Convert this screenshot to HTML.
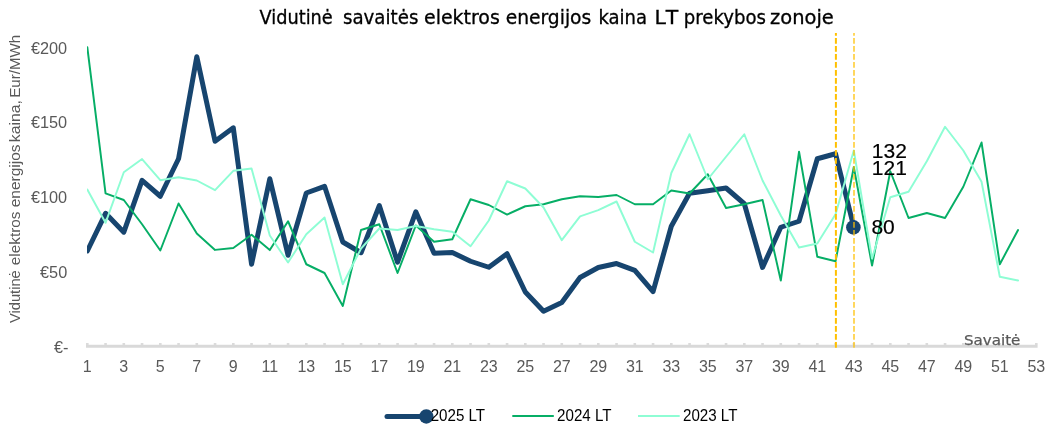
<!DOCTYPE html>
<html lang="lt">
<head>
<meta charset="utf-8">
<title>Vidutinė savaitės elektros energijos kaina LT prekybos zonoje</title>
<style>
html,body{margin:0;padding:0;background:#fff;}
body{width:1060px;height:447px;overflow:hidden;font-family:"Liberation Sans",sans-serif;}
svg{display:block;}
</style>
</head>
<body>
<svg width="1060" height="447" viewBox="0 0 1060 447">
<rect width="1060" height="447" fill="#ffffff"/>
<text y="23.5" font-family="'DejaVu Sans', 'Liberation Sans', sans-serif" font-size="18.67" fill="#000" stroke="#000" stroke-width="0.3"><tspan x="259.5" textLength="73.3" lengthAdjust="spacingAndGlyphs">Vidutinė</tspan> <tspan x="342.9" textLength="75.5" lengthAdjust="spacingAndGlyphs">savaitės</tspan> <tspan x="424.0" textLength="75.8" lengthAdjust="spacingAndGlyphs">elektros</tspan> <tspan x="505.7" textLength="85.6" lengthAdjust="spacingAndGlyphs">energijos</tspan> <tspan x="598.4" textLength="48.7" lengthAdjust="spacingAndGlyphs">kaina</tspan> <tspan x="654.4" textLength="23.9" lengthAdjust="spacingAndGlyphs" style="font-kerning:none">LT</tspan> <tspan x="683.8" textLength="82.2" lengthAdjust="spacingAndGlyphs">prekybos</tspan> <tspan x="770.0" textLength="63.8" lengthAdjust="spacingAndGlyphs">zonoje</tspan></text>
<text transform="translate(20.2,0) rotate(-90)" y="0" font-family="'Liberation Sans', sans-serif" font-size="14.67" fill="#595959"><tspan x="-322.9" textLength="52.6" lengthAdjust="spacingAndGlyphs">Vidutinė</tspan> <tspan x="-265.2" textLength="53.6" lengthAdjust="spacingAndGlyphs">elektros</tspan> <tspan x="-207.3" textLength="62.8" lengthAdjust="spacingAndGlyphs">energijos</tspan> <tspan x="-142.2" textLength="42.2" lengthAdjust="spacingAndGlyphs">kaina,</tspan> <tspan x="-97.8" textLength="63.0" lengthAdjust="spacingAndGlyphs">Eur/MWh</tspan></text>
<text x="67.2" y="53.60" text-anchor="end" font-family="'Liberation Sans', sans-serif" font-size="16.3" fill="#595959">€200</text>
<text x="67.2" y="128.48" text-anchor="end" font-family="'Liberation Sans', sans-serif" font-size="16.3" fill="#595959">€150</text>
<text x="67.2" y="203.35" text-anchor="end" font-family="'Liberation Sans', sans-serif" font-size="16.3" fill="#595959">€100</text>
<text x="67.2" y="278.23" text-anchor="end" font-family="'Liberation Sans', sans-serif" font-size="16.3" fill="#595959">€50</text>
<text x="68.4" y="353.10" text-anchor="end" font-family="'Liberation Sans', sans-serif" font-size="16.3" fill="#595959">€-</text>
<line x1="86" y1="346.3" x2="1037.6" y2="346.3" stroke="#d9d9d9" stroke-width="2.9"/>
<path d="M87.30 344.90v-2.0M105.55 344.90v-2.0M123.80 344.90v-2.0M142.05 344.90v-2.0M160.30 344.90v-2.0M178.55 344.90v-2.0M196.80 344.90v-2.0M215.05 344.90v-2.0M233.30 344.90v-2.0M251.55 344.90v-2.0M269.80 344.90v-2.0M288.05 344.90v-2.0M306.30 344.90v-2.0M324.55 344.90v-2.0M342.80 344.90v-2.0M361.05 344.90v-2.0M379.30 344.90v-2.0M397.55 344.90v-2.0M415.80 344.90v-2.0M434.05 344.90v-2.0M452.30 344.90v-2.0M470.55 344.90v-2.0M488.80 344.90v-2.0M507.05 344.90v-2.0M525.30 344.90v-2.0M543.55 344.90v-2.0M561.80 344.90v-2.0M580.05 344.90v-2.0M598.30 344.90v-2.0M616.55 344.90v-2.0M634.80 344.90v-2.0M653.05 344.90v-2.0M671.30 344.90v-2.0M689.55 344.90v-2.0M707.80 344.90v-2.0M726.05 344.90v-2.0M744.30 344.90v-2.0M762.55 344.90v-2.0M780.80 344.90v-2.0M799.05 344.90v-2.0M817.30 344.90v-2.0M835.55 344.90v-2.0M853.80 344.90v-2.0M872.05 344.90v-2.0M890.30 344.90v-2.0M908.55 344.90v-2.0M926.80 344.90v-2.0M945.05 344.90v-2.0M963.30 344.90v-2.0M981.55 344.90v-2.0M999.80 344.90v-2.0M1018.05 344.90v-2.0M1036.30 344.90v-2.0" stroke="#dbdbdb" stroke-width="2.6" fill="none"/>
<text x="87.30" y="372" text-anchor="middle" font-family="'Liberation Sans', sans-serif" font-size="16" fill="#595959">1</text>
<text x="123.80" y="372" text-anchor="middle" font-family="'Liberation Sans', sans-serif" font-size="16" fill="#595959">3</text>
<text x="160.30" y="372" text-anchor="middle" font-family="'Liberation Sans', sans-serif" font-size="16" fill="#595959">5</text>
<text x="196.80" y="372" text-anchor="middle" font-family="'Liberation Sans', sans-serif" font-size="16" fill="#595959">7</text>
<text x="233.30" y="372" text-anchor="middle" font-family="'Liberation Sans', sans-serif" font-size="16" fill="#595959">9</text>
<text x="269.80" y="372" text-anchor="middle" font-family="'Liberation Sans', sans-serif" font-size="16" fill="#595959">11</text>
<text x="306.30" y="372" text-anchor="middle" font-family="'Liberation Sans', sans-serif" font-size="16" fill="#595959">13</text>
<text x="342.80" y="372" text-anchor="middle" font-family="'Liberation Sans', sans-serif" font-size="16" fill="#595959">15</text>
<text x="379.30" y="372" text-anchor="middle" font-family="'Liberation Sans', sans-serif" font-size="16" fill="#595959">17</text>
<text x="415.80" y="372" text-anchor="middle" font-family="'Liberation Sans', sans-serif" font-size="16" fill="#595959">19</text>
<text x="452.30" y="372" text-anchor="middle" font-family="'Liberation Sans', sans-serif" font-size="16" fill="#595959">21</text>
<text x="488.80" y="372" text-anchor="middle" font-family="'Liberation Sans', sans-serif" font-size="16" fill="#595959">23</text>
<text x="525.30" y="372" text-anchor="middle" font-family="'Liberation Sans', sans-serif" font-size="16" fill="#595959">25</text>
<text x="561.80" y="372" text-anchor="middle" font-family="'Liberation Sans', sans-serif" font-size="16" fill="#595959">27</text>
<text x="598.30" y="372" text-anchor="middle" font-family="'Liberation Sans', sans-serif" font-size="16" fill="#595959">29</text>
<text x="634.80" y="372" text-anchor="middle" font-family="'Liberation Sans', sans-serif" font-size="16" fill="#595959">31</text>
<text x="671.30" y="372" text-anchor="middle" font-family="'Liberation Sans', sans-serif" font-size="16" fill="#595959">33</text>
<text x="707.80" y="372" text-anchor="middle" font-family="'Liberation Sans', sans-serif" font-size="16" fill="#595959">35</text>
<text x="744.30" y="372" text-anchor="middle" font-family="'Liberation Sans', sans-serif" font-size="16" fill="#595959">37</text>
<text x="780.80" y="372" text-anchor="middle" font-family="'Liberation Sans', sans-serif" font-size="16" fill="#595959">39</text>
<text x="817.30" y="372" text-anchor="middle" font-family="'Liberation Sans', sans-serif" font-size="16" fill="#595959">41</text>
<text x="853.80" y="372" text-anchor="middle" font-family="'Liberation Sans', sans-serif" font-size="16" fill="#595959">43</text>
<text x="890.30" y="372" text-anchor="middle" font-family="'Liberation Sans', sans-serif" font-size="16" fill="#595959">45</text>
<text x="926.80" y="372" text-anchor="middle" font-family="'Liberation Sans', sans-serif" font-size="16" fill="#595959">47</text>
<text x="963.30" y="372" text-anchor="middle" font-family="'Liberation Sans', sans-serif" font-size="16" fill="#595959">49</text>
<text x="999.80" y="372" text-anchor="middle" font-family="'Liberation Sans', sans-serif" font-size="16" fill="#595959">51</text>
<text x="1036.30" y="372" text-anchor="middle" font-family="'Liberation Sans', sans-serif" font-size="16" fill="#595959">53</text>
<text y="345.2" font-family="'DejaVu Sans', 'Liberation Sans', sans-serif" font-size="14.67" fill="#595959" stroke="#595959" stroke-width="0.25"><tspan x="964" textLength="56.4" lengthAdjust="spacingAndGlyphs">Savaitė</tspan></text>
<defs><clipPath id="plotclip"><rect x="86.9" y="30" width="960" height="320"/></clipPath></defs>
<polyline clip-path="url(#plotclip)" points="87.30,251.00 105.55,213.30 123.80,232.20 142.05,180.30 160.30,196.25 178.55,158.75 196.80,56.80 215.05,141.20 233.30,127.80 251.55,264.20 269.80,178.80 288.05,255.20 306.30,193.00 324.55,186.30 342.80,242.00 361.05,252.75 379.30,205.55 397.55,262.20 415.80,211.80 434.05,253.25 452.30,252.50 470.55,261.25 488.80,267.25 507.05,253.75 525.30,292.00 543.55,311.30 561.80,302.50 580.05,277.50 598.30,267.50 616.55,263.55 634.80,270.30 653.05,291.70 671.30,226.25 689.55,193.25 707.80,190.75 726.05,188.00 744.30,203.75 762.55,267.45 780.80,227.25 799.05,221.25 817.30,158.75 835.55,153.75 853.80,227.00" fill="none" stroke="#17456f" stroke-width="5" stroke-linejoin="round" stroke-linecap="round"/>
<circle cx="853.4" cy="227.4" r="7.3" fill="#17456f"/>
<polyline clip-path="url(#plotclip)" points="87.30,47.20 105.55,193.30 123.80,200.00 142.05,224.25 160.30,250.50 178.55,203.50 196.80,233.50 215.05,249.90 233.30,248.00 251.55,234.75 269.80,250.10 288.05,221.25 306.30,264.25 324.55,273.00 342.80,306.00 361.05,230.00 379.30,224.25 397.55,273.00 415.80,225.50 434.05,241.75 452.30,239.25 470.55,199.25 488.80,205.00 507.05,214.55 525.30,206.25 543.55,204.25 561.80,199.25 580.05,196.25 598.30,197.00 616.55,195.00 634.80,204.25 653.05,204.25 671.30,190.50 689.55,193.50 707.80,174.25 726.05,208.00 744.30,204.25 762.55,200.00 780.80,280.50 799.05,151.75 817.30,256.75 835.55,261.25 853.80,167.00 872.05,265.50 890.30,171.25 908.55,218.00 926.80,213.00 945.05,218.00 963.30,186.75 981.55,142.50 999.80,264.25 1018.05,230.00" fill="none" stroke="#06ae66" stroke-width="1.95" stroke-linejoin="round" stroke-linecap="round"/>
<polyline clip-path="url(#plotclip)" points="87.30,189.55 105.55,222.80 123.80,172.25 142.05,159.05 160.30,180.20 178.55,177.30 196.80,180.50 215.05,190.20 233.30,170.80 251.55,168.50 269.80,235.50 288.05,262.50 306.30,234.25 324.55,217.50 342.80,284.25 361.05,248.50 379.30,228.50 397.55,230.00 415.80,226.00 434.05,229.25 452.30,231.75 470.55,246.20 488.80,220.50 507.05,181.25 525.30,188.50 543.55,207.50 561.80,240.20 580.05,216.45 598.30,210.20 616.55,201.50 634.80,241.75 653.05,252.50 671.30,173.00 689.55,134.25 707.80,179.25 726.05,156.75 744.30,134.25 762.55,180.50 780.80,215.50 799.05,247.50 817.30,243.50 835.55,214.25 853.80,150.50 872.05,258.50 890.30,197.25 908.55,191.75 926.80,161.25 945.05,126.75 963.30,150.50 981.55,181.75 999.80,276.75 1018.05,280.50" fill="none" stroke="#8efdd4" stroke-width="1.95" stroke-linejoin="round" stroke-linecap="round"/>
<text x="871.4" y="234.3" font-family="'Liberation Sans', sans-serif" font-size="21" fill="#000" stroke="#000" stroke-width="0.2">80</text>
<text x="871.8" y="174.5" font-family="'Liberation Sans', sans-serif" font-size="21" fill="#000" stroke="#000" stroke-width="0.2">121</text>
<text x="871.8" y="157.5" font-family="'Liberation Sans', sans-serif" font-size="21" fill="#000" stroke="#000" stroke-width="0.2">132</text>
<line x1="835.9" y1="33" x2="835.9" y2="347.7" stroke="#ffc000" stroke-width="2" stroke-dasharray="5.8 2.2" stroke-dashoffset="3"/>
<line x1="854" y1="33" x2="854" y2="347.7" stroke="#ffc000" stroke-opacity="0.7" stroke-width="1.8" stroke-dasharray="5.8 2.2" stroke-dashoffset="3"/>
<line x1="387" y1="416.5" x2="426" y2="416.5" stroke="#17456f" stroke-width="5" stroke-linecap="round"/>
<circle cx="426.3" cy="416.5" r="7.2" fill="#17456f"/>
<text x="430.7" y="420.9" font-family="'Liberation Sans', sans-serif" font-size="15.7" fill="#000" textLength="54.4" lengthAdjust="spacingAndGlyphs">2025 LT</text>
<line x1="512.3" y1="416" x2="553.8" y2="416" stroke="#06ae66" stroke-width="1.95"/>
<text x="557.1" y="420.9" font-family="'Liberation Sans', sans-serif" font-size="15.7" fill="#000" textLength="54.4" lengthAdjust="spacingAndGlyphs">2024 LT</text>
<line x1="638" y1="416" x2="679.7" y2="416" stroke="#8efdd4" stroke-width="1.95"/>
<text x="683.0" y="420.9" font-family="'Liberation Sans', sans-serif" font-size="15.7" fill="#000" textLength="54.4" lengthAdjust="spacingAndGlyphs">2023 LT</text>
</svg>
</body>
</html>
